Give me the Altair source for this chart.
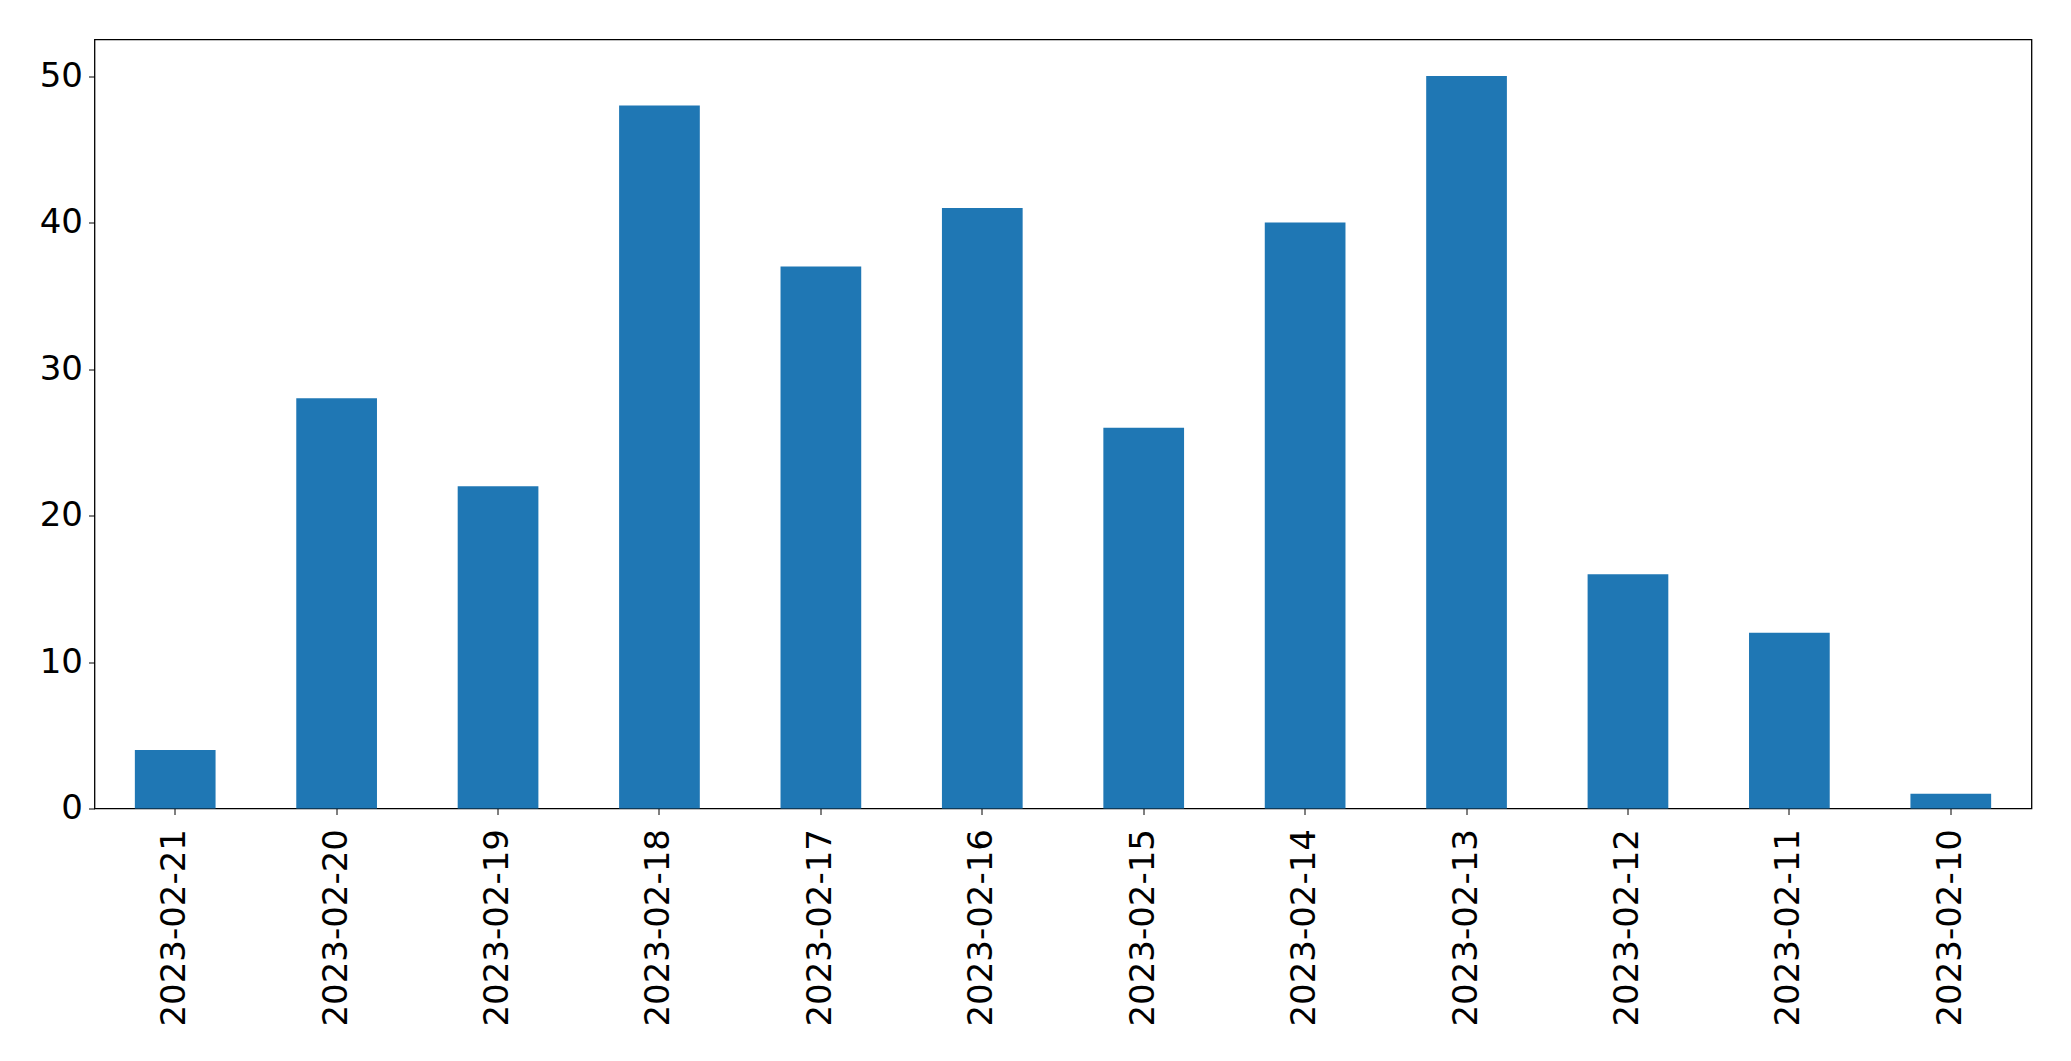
import altair as alt
import pandas as pd

dates = ["2023-02-21", "2023-02-20", "2023-02-19", "2023-02-18", "2023-02-17", "2023-02-16",
         "2023-02-15", "2023-02-14", "2023-02-13", "2023-02-12", "2023-02-11", "2023-02-10"]
counts = [4, 28, 22, 48, 37, 41, 26, 40, 50, 16, 12, 1]
y_ticks = [0, 10, 20, 30, 40, 50]

df = pd.DataFrame({"date": dates, "count": counts})

chart = alt.Chart(df).mark_bar(color="#1f77b4").encode(
    x=alt.X("date:N", sort=dates, title=None,
            scale=alt.Scale(paddingInner=0.5, paddingOuter=0.25),
            axis=alt.Axis(labelAngle=-90, labelFontSize=34, labelFont="DejaVu Sans",
                          labelColor="black", tickColor="black", tickSize=6, labelLimit=0,
                          labelPadding=14, domain=False, grid=False)),
    y=alt.Y("count:Q", title=None,
            scale=alt.Scale(domain=[0, 52.5], nice=False, zero=True),
            axis=alt.Axis(values=y_ticks, labelFontSize=34, labelFont="DejaVu Sans",
                          labelColor="black", tickColor="black", tickSize=6,
                          labelPadding=6, domain=False, grid=False)),
).properties(
    width=1937, height=769,
    autosize=alt.AutoSizeParams(type="none"),
    padding={"left": 86.5, "top": 31.5, "right": 30, "bottom": 240},
).configure_view(stroke="black", strokeWidth=1.3)

chart.save("out.html", embed_options={"renderer": "svg", "actions": False})
